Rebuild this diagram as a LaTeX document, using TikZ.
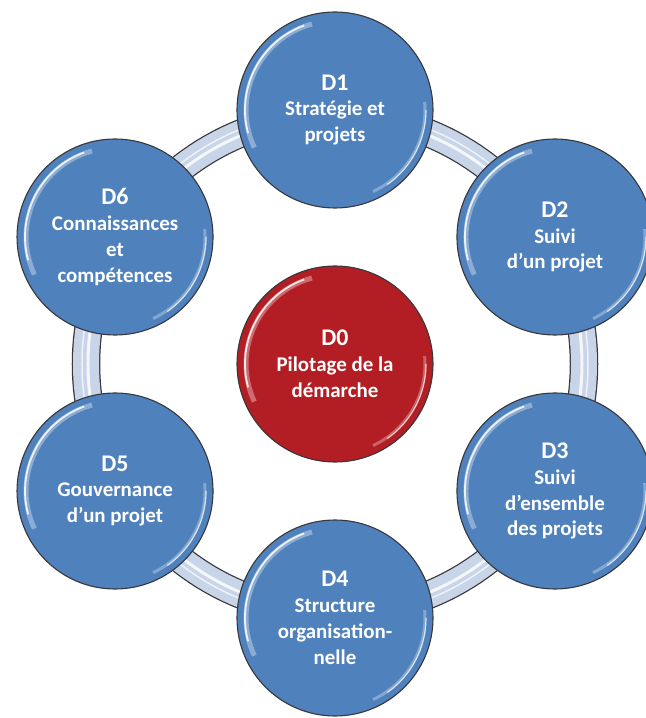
\documentclass[tikz,border=0pt]{standalone}
\usepackage{fontspec}
\setmainfont{Carlito}
\definecolor{domblue}{RGB}{79,129,189}
\definecolor{pilred}{RGB}{178,30,36}
\definecolor{ringfill}{RGB}{200,212,232}
\definecolor{rimgray}{RGB}{55,55,60}
\tikzset{
  disque/.style={circle, draw=rimgray, line width=1.1bp, minimum size=196bp,
    inner sep=0pt, align=center, text=white,
    font=\fontsize{21}{26}\selectfont\bfseries},
  domaine/.style={disque, fill=domblue},
  pilote/.style={disque, fill=pilred},
  titre/.style={font=\fontsize{24}{26}\selectfont\bfseries}
}
\begin{document}
\begin{tikzpicture}[x=1bp,y=1bp]
      \useasboundingbox (-335,-354) rectangle (311,364);
      % anneau
      \coordinate (c) at (0,0);
      \draw[rimgray, line width=28.5bp] (c) circle (249);
      \draw[ringfill, line width=26bp] (c) circle (249);
      \draw[white, line width=3bp, opacity=.8] (c) circle (247);
      \draw[white, line width=1.5bp, opacity=.7] (c) circle (253);
      \path
        (0,0) node[pilote] (d0){{\fontsize{24}{26}\selectfont D0}\\Pilotage de la\\démarche}
        (90:254) node[domaine] (d1){{\fontsize{24}{26}\selectfont D1}\\Stratégie et\\projets}
        (30:254) node[domaine] (d2){{\fontsize{24}{26}\selectfont D2}\\Suivi\\d’un projet}
        (-30:254) node[domaine] (d3){{\fontsize{24}{26}\selectfont D3}\\Suivi\\d’ensemble\\des projets}
        (-90:254) node[domaine] (d4){{\fontsize{24}{26}\selectfont D4}\\Structure\\organisation-\\nelle}
        (210:254) node[domaine] (d5){{\fontsize{24}{26}\selectfont D5}\\Gouvernance\\d’un projet}
        (150:254) node[domaine] (d6){{\fontsize{24}{26}\selectfont D6}\\Connaissances\\et\\compétences};
      % reflets
      \begin{scope}[white]
        \foreach \n in {d0,d1,d2,d3,d4,d5,d6} {
          \draw[line width=5bp, opacity=.35] (\n.center) ++(105:89) arc[start angle=105, end angle=205, radius=89];
          \draw[line width=1.8bp, opacity=.85] (\n.center) ++(110:90) arc[start angle=110, end angle=195, radius=90];
          \draw[line width=3bp, opacity=.3] (\n.center) ++(-65:90) arc[start angle=-65, end angle=5, radius=90];
          \draw[line width=1.2bp, opacity=.7] (\n.center) ++(-55:91) arc[start angle=-55, end angle=0, radius=91];
        }
      \end{scope}
    \end{tikzpicture}
\end{document}
